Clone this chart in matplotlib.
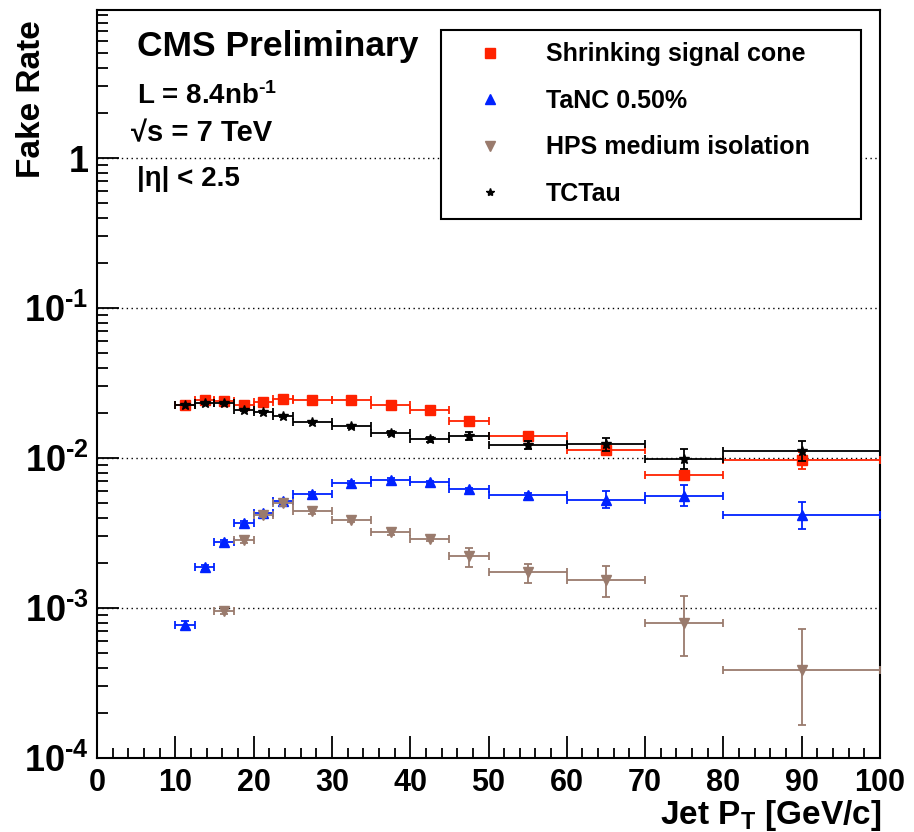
import numpy as np
import matplotlib
matplotlib.use("Agg")
import matplotlib.pyplot as plt
from matplotlib.ticker import FixedLocator, FuncFormatter, MultipleLocator
from matplotlib.lines import Line2D

plt.rcParams['font.family'] = ['Liberation Sans', 'DejaVu Sans']
plt.rcParams['font.weight'] = 'bold'
plt.rcParams['mathtext.fontset'] = 'custom'
plt.rcParams['mathtext.rm'] = 'Liberation Sans:bold'
plt.rcParams['mathtext.bf'] = 'Liberation Sans:bold'
plt.rcParams['mathtext.it'] = 'Liberation Sans:bold'

# ---- data ----
bin_edges = [10, 12.5, 15, 17.5, 20, 22.5, 25, 30, 35, 40, 45, 50, 60, 70, 80, 100]

ssc_vals = [2.27e-2, 2.43e-2, 2.39e-2, 2.27e-2, 2.38e-2, 2.49e-2, 2.45e-2, 2.43e-2,
            2.24e-2, 2.10e-2, 1.76e-2, 1.41e-2, 1.13e-2, 0.77e-2, 0.97e-2]
ssc_err = [0.04e-2, 0.04e-2, 0.04e-2, 0.04e-2, 0.04e-2, 0.04e-2, 0.04e-2, 0.05e-2,
           0.05e-2, 0.05e-2, 0.06e-2, 0.07e-2, 0.08e-2, 0.05e-2, 0.13e-2]

tanc_vals = [0.77e-3, 1.87e-3, 2.76e-3, 3.70e-3, 4.31e-3, 5.13e-3, 5.80e-3, 6.84e-3,
             7.19e-3, 6.90e-3, 6.17e-3, 5.65e-3, 5.21e-3, 5.56e-3, 4.14e-3]
tanc_err_lo = [0.05e-3, 0.08e-3, 0.10e-3, 0.12e-3, 0.14e-3, 0.15e-3, 0.15e-3, 0.15e-3,
               0.15e-3, 0.15e-3, 0.15e-3, 0.20e-3, 0.58e-3, 0.79e-3, 0.76e-3]
tanc_err_hi = [0.05e-3, 0.08e-3, 0.10e-3, 0.12e-3, 0.14e-3, 0.15e-3, 0.15e-3, 0.15e-3,
               0.15e-3, 0.15e-3, 0.17e-3, 0.20e-3, 0.80e-3, 1.03e-3, 0.93e-3]

hps_first_bin = 2  # HPS points start in the 15-17.5 GeV bin
hps_vals = [0.96e-3, 2.82e-3, 4.20e-3, 5.00e-3, 4.42e-3, 3.89e-3, 3.20e-3, 2.89e-3,
            2.22e-3, 1.73e-3, 1.53e-3, 0.79e-3, 0.385e-3]
hps_err_lo = [0.05e-3, 0.10e-3, 0.15e-3, 0.18e-3, 0.16e-3, 0.14e-3, 0.12e-3, 0.11e-3,
              0.34e-3, 0.27e-3, 0.34e-3, 0.31e-3, 0.218e-3]
hps_err_hi = [0.05e-3, 0.10e-3, 0.15e-3, 0.18e-3, 0.16e-3, 0.14e-3, 0.12e-3, 0.11e-3,
              0.30e-3, 0.25e-3, 0.37e-3, 0.41e-3, 0.345e-3]

tct_vals = [2.27e-2, 2.33e-2, 2.31e-2, 2.08e-2, 2.03e-2, 1.90e-2, 1.74e-2, 1.63e-2,
            1.47e-2, 1.33e-2, 1.40e-2, 1.22e-2, 1.24e-2, 0.99e-2, 1.12e-2]
tct_err = [0.03e-2, 0.03e-2, 0.03e-2, 0.03e-2, 0.03e-2, 0.03e-2, 0.03e-2, 0.04e-2,
           0.04e-2, 0.05e-2, 0.09e-2, 0.08e-2, 0.12e-2, 0.15e-2, 0.17e-2]

labels = ["Shrinking signal cone", "TaNC 0.50%", "HPS medium isolation", "TCTau"]
colors = ["#FF2200", "#0022FF", "#9A7B6D", "#000000"]

# ---- figure ----
W, H = 914, 832
fig = plt.figure(figsize=(W / 100, H / 100), dpi=100)
ax = fig.add_axes([97 / W, 1 - 758 / H, (880 - 97) / W, (758 - 10) / H])
ax.set_yscale('log')
ax.set_xlim(0, 100)
ax.set_ylim(1e-4, 10 ** 0.987)

edges = np.array(bin_edges)
centers = 0.5 * (edges[:-1] + edges[1:])
halfw = 0.5 * (edges[1:] - edges[:-1])

ekw = dict(linestyle='none', elinewidth=1.3, capsize=3.2, capthick=1.3)
ax.errorbar(centers, ssc_vals, yerr=ssc_err, xerr=halfw, color=colors[0],
            marker='s', markersize=7.5, zorder=3, **ekw)
ax.errorbar(centers, tanc_vals, yerr=[tanc_err_lo, tanc_err_hi], xerr=halfw, color=colors[1],
            marker='^', markersize=7.5, zorder=4, **ekw)
hc = centers[hps_first_bin:]
hw = halfw[hps_first_bin:]
ax.errorbar(hc, hps_vals, yerr=[hps_err_lo, hps_err_hi], xerr=hw, color=colors[2],
            marker='v', markersize=7.5, zorder=5, **ekw)
ax.errorbar(centers, tct_vals, yerr=tct_err, xerr=halfw, color=colors[3],
            marker='*', markersize=7.5, zorder=6, **ekw)

# grid at decades
for yv in [1, 0.1, 0.01, 0.001]:
    ax.axhline(yv, color='black', linestyle=(0, (1, 2.5)), linewidth=1.0, zorder=1)

# spines / ticks
for s in ['left', 'bottom', 'right', 'top']:
    ax.spines[s].set_linewidth(1.5)
ax.xaxis.set_major_locator(MultipleLocator(10))
ax.xaxis.set_minor_locator(MultipleLocator(2))
ax.tick_params(axis='both', which='both', direction='in', top=False, right=False)
ax.tick_params(axis='x', which='major', length=16, width=1.3, labelsize=22, pad=7)
ax.tick_params(axis='x', which='minor', length=7, width=1.3)
ax.tick_params(axis='y', which='major', length=16, width=1.3, labelsize=26, pad=6)
ax.tick_params(axis='y', which='minor', length=8, width=1.3)

ax.yaxis.set_major_locator(FixedLocator([1e-4, 1e-3, 1e-2, 1e-1, 1, 10]))
minors = [m * 10.0 ** e for e in range(-4, 1) for m in range(2, 10)]
ax.yaxis.set_minor_locator(FixedLocator(minors))


def yfmt(v, pos):
    e = int(round(np.log10(v)))
    if e == 0:
        return '1'
    return r'$\mathbf{10^{\text{-}%d}}$' % (-e)


ax.yaxis.set_major_formatter(FuncFormatter(yfmt))
for lbl in ax.get_xticklabels() + ax.get_yticklabels():
    lbl.set_fontweight('bold')

# axis titles
fig.text(32 / W, 1 - 20 / H, "Fake Rate", rotation=90, ha='center', va='top',
         fontsize=24, fontweight='bold')
fig.text(881 / W, 1 - 824 / H, r"Jet P$_{\mathbf{T}}$ [GeV/c]", ha='right', va='baseline',
         fontsize=24, fontweight='bold')

# annotations
fig.text(137 / W, 1 - 56 / H, "CMS Preliminary", ha='left', va='baseline',
         fontsize=25.5, fontweight='bold')
fig.text(137 / W, 1 - 104 / H, r"L = 8.4nb$^{\mathbf{\text{-}1}}$", ha='left', va='baseline',
         fontsize=20, fontweight='bold')
fig.text(131 / W, 1 - 141 / H, "\u221as = 7 TeV", ha='left', va='baseline',
         fontsize=21, fontweight='bold')
fig.text(137 / W, 1 - 186 / H, "|\u03b7| < 2.5", ha='left', va='baseline',
         fontsize=20, fontweight='bold')

# legend
handles = [Line2D([], [], linestyle='none', marker=m, color=c, markersize=ms)
           for m, c, ms in zip(['s', '^', 'v', '*'], colors, [7, 7, 7, 6])]
leg = ax.legend(handles, labels, loc='upper left',
                bbox_to_anchor=(441 / W, 1 - 215 / H, (861 - 441) / W, (215 - 30) / H),
                bbox_transform=fig.transFigure, mode='expand',
                prop={'family': 'Liberation Sans', 'weight': 'bold', 'size': 18},
                frameon=True, fancybox=False, edgecolor='black', framealpha=1,
                borderpad=0.5, labelspacing=0.9, handlelength=2.92, handletextpad=0.78,
                borderaxespad=0)
leg.get_frame().set_linewidth(1.5)

fig.savefig("out.png", dpi=100)
